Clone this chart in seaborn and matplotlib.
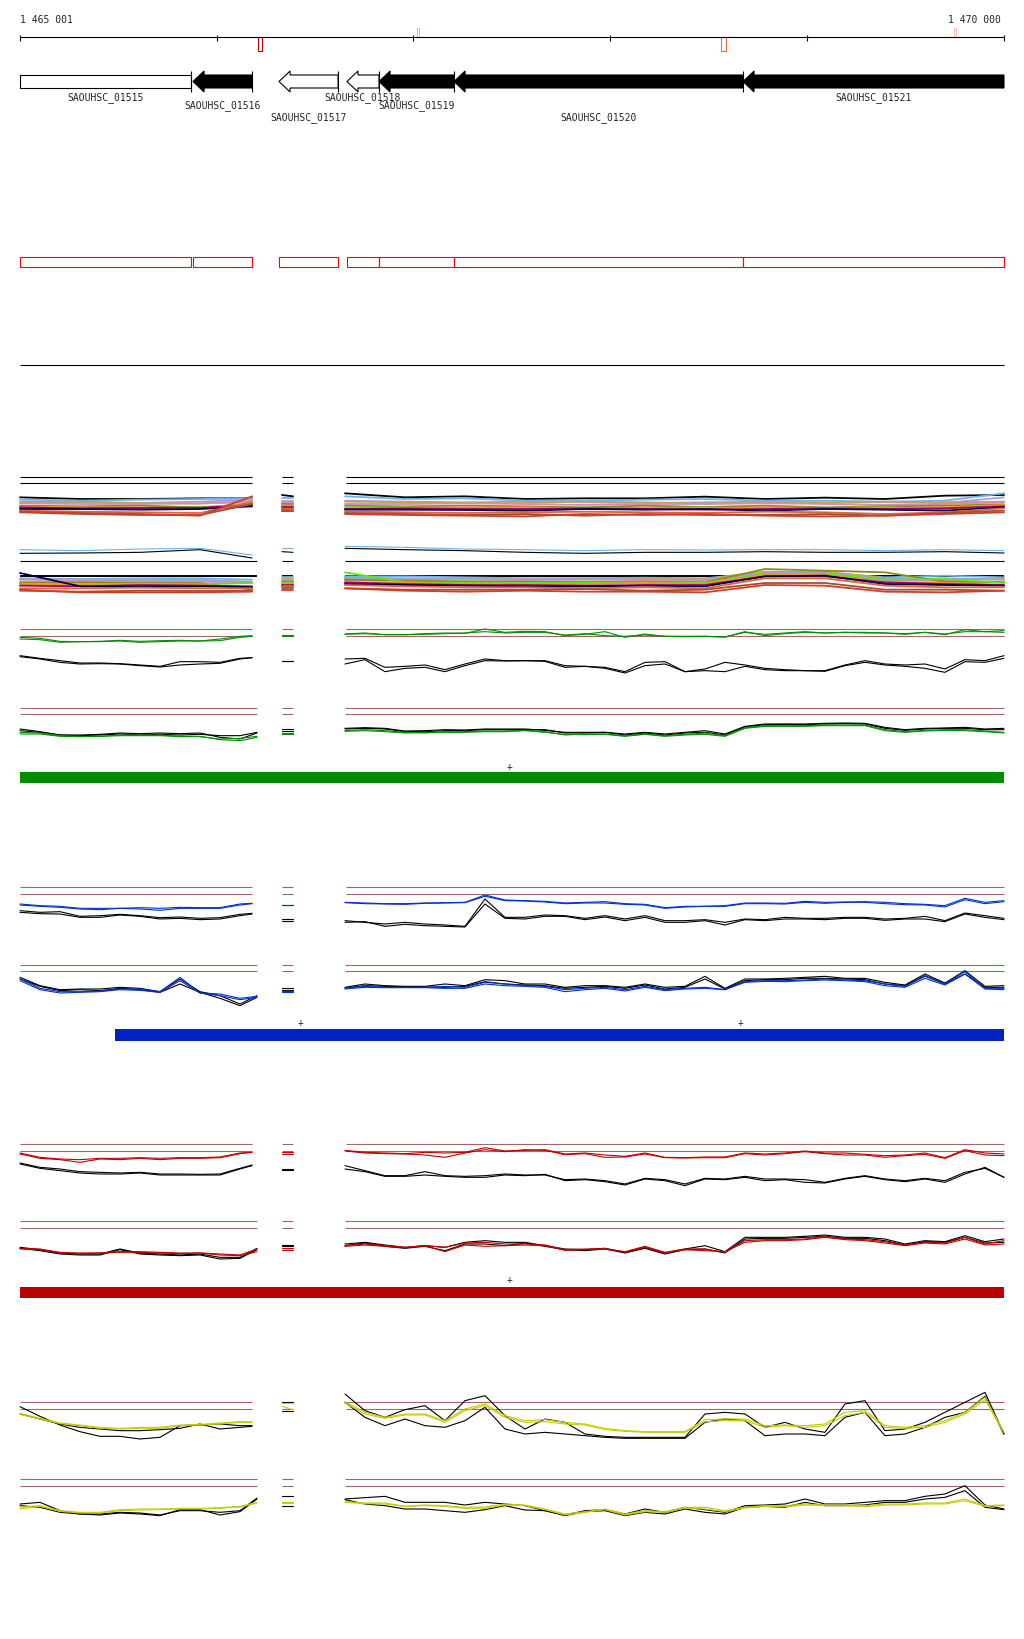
import numpy as np
import pandas as pd
import matplotlib
matplotlib.use("Agg")
import matplotlib.pyplot as plt
import seaborn as sns

# ---------------------------------------------------------------- data
VIEW_START, VIEW_END = 1465001, 1470000
RULER_TICKS = [1465001, 1466000, 1467000, 1468000, 1469000, 1470000]
RULER_LEFT_LABEL = "1 465 001"
RULER_RIGHT_LABEL = "1 470 000"

GENE_NAMES = ["SAOUHSC_01515", "SAOUHSC_01516", "SAOUHSC_01517", "SAOUHSC_01518",
              "SAOUHSC_01519", "SAOUHSC_01520", "SAOUHSC_01521"]
GENE_START = [1465001, 1465880, 1466317, 1466662, 1466825, 1467206, 1468674]
GENE_END = [1465870, 1466180, 1466617, 1466825, 1467206, 1468674, 1470000]
GENE_STRAND = [".", "-", "-", "-", "-", "-", "-"]
GENE_FILL = ["white", "black", "white", "white", "black", "black", "black"]

VAR_POS = [1466210, 1467018, 1468562, 1469746]
VAR_WIDTH = [20, 12, 25, 12]
VAR_SIDE = ["below", "above", "below", "above"]
VAR_COLOR = ["#C00000", "#F0B8B0", "#F0674A", "#F4C8B8"]

TX_START = [1465001, 1465484, 1465001]
TX_END = [1470000, 1470000, 1470000]
TX_COLOR = ["#008C00", "#0022C2", "#BB0000"]
PLUS_G = [1467490]
PLUS_B = [1466424, 1468664]
PLUS_R = [1467490]

# sampling positions (bp)
POS_L_TOP = [VIEW_START + 101.6 * i for i in range(12)] + [1466180]
POS_L_BOT = [VIEW_START + 101.6 * i for i in range(12)] + [1466205]
POS_M = [1466332, 1466388]
POS_R = [1466652 + 101.6 * i for i in range(33)] + [1470000]
CPOS_L = [1465001, 1465306, 1465611, 1465915, 1466180]
CPOS_R = [1466652 + 304.8 * i for i in range(11)] + [1470000]

SEG_TOP = [(1465001, 1466180), (1466332, 1466388), (1466657, 1470000)]
SEG_BOT = [(1465001, 1466205), (1466332, 1466388), (1466652, 1470000)]

# ---- green group
G_REF_TOP = [61, 82]
G_REF_BOT = [296, 316]
G_TOP_GREEN_1 = [85, 88, 97, 98, 97, 94, 97, 95, 94, 96, 90, 82, 80,
                 78, 78,
                 75, 72, 77, 77, 74, 72, 73, 60, 70,
                 67, 68, 80, 76, 68, 85, 75, 82, 82, 82, 84, 70, 76, 72, 68, 72, 70, 72, 72, 76, 70, 77, 62, 68, 65]
G_TOP_GREEN_2 = [90, 92, 100, 98, 98, 96, 100, 98, 96, 96, 95, 85, 82,
                 80, 80,
                 76, 74, 77, 77, 76, 74, 72, 68, 72,
                 70, 70, 78, 74, 80, 82, 78, 82, 83, 82, 84, 68, 80, 74, 70, 72, 70, 70, 72, 74, 70, 75, 68, 68, 70]
G_TOP_BLACK_1 = [140, 148, 155, 162, 162, 164, 168, 172, 158, 158, 160, 148, 146,
                 155, 155,
                 150, 148, 175, 172, 168, 182, 165, 150, 155,
                 155, 155, 170, 172, 175, 188, 160, 158, 188, 180, 160, 168, 178, 182, 185, 185, 168, 155, 165, 168, 165, 180, 152, 155, 140]
G_TOP_BLACK_2 = [143, 150, 160, 165, 164, 165, 170, 174, 168, 165, 163, 150, 146,
                 157, 157,
                 165, 152, 188, 178, 175, 188, 170, 155, 156,
                 155, 157, 175, 172, 178, 192, 170, 165, 188, 185, 188, 172, 182, 185, 185, 187, 170, 160, 168, 172, 178, 190, 158, 160, 148]
G_BOT_BLACK_1 = [360, 368, 378, 378, 376, 372, 374, 372, 374, 372, 385, 390, 372,
                 360, 360,
                 358, 356, 358, 366, 365, 362, 363, 360, 360,
                 360, 364, 370, 370, 370, 375, 370, 375, 370, 365, 375, 352, 345, 345, 345, 343, 342, 343, 355, 362, 358, 357, 355, 360, 358]
G_BOT_BLACK_2 = [365, 370, 378, 380, 378, 375, 378, 376, 378, 376, 380, 380, 370,
                 365, 365,
                 360, 358, 360, 368, 368, 365, 365, 362, 362,
                 362, 362, 372, 372, 370, 378, 372, 378, 372, 370, 378, 354, 347, 346, 347, 345, 344, 345, 358, 364, 360, 358, 358, 362, 362]
G_BOT_GREEN_1 = [370, 372, 380, 382, 382, 378, 378, 378, 382, 382, 392, 395, 385,
                 372, 372,
                 365, 362, 365, 370, 372, 368, 368, 366, 366,
                 364, 368, 378, 375, 375, 380, 375, 380, 376, 372, 380, 356, 350, 350, 350, 348, 348, 348, 362, 368, 364, 362, 362, 366, 370]
G_BOT_GREEN_2 = [375, 375, 382, 383, 382, 380, 380, 380, 383, 383, 390, 388, 382,
                 374, 374,
                 367, 365, 368, 372, 370, 370, 370, 368, 368,
                 365, 370, 376, 377, 376, 382, 376, 382, 378, 376, 382, 358, 352, 352, 352, 350, 350, 350, 365, 370, 366, 364, 365, 368, 372]

# ---- blue group
B_REF_TOP = [55, 76]
B_REF_BOT = [287, 307]
B_TOP_BLUE_1 = [105, 110, 112, 118, 118, 118, 116, 118, 115, 116, 116, 105, 103,
                107, 107,
                100, 102, 104, 104, 102, 101, 100, 78, 93,
                95, 97, 102, 100, 98, 104, 106, 116, 112, 112, 110, 102, 102, 103, 97, 100, 99, 98, 100, 104, 106, 110, 88, 100, 95]
B_TOP_BLUE_2 = [108, 112, 115, 120, 122, 118, 120, 124, 118, 118, 118, 108, 104,
                108, 108,
                101, 104, 105, 106, 103, 102, 101, 82, 95,
                96, 99, 104, 102, 102, 106, 108, 118, 114, 112, 112, 104, 104, 105, 100, 103, 100, 100, 104, 107, 108, 114, 92, 104, 98]
B_TOP_BLACK_1 = [125, 130, 128, 142, 140, 136, 140, 146, 144, 148, 146, 136, 133,
                 150, 150,
                 155, 160, 165, 160, 165, 168, 172, 90, 145,
                 145, 138, 140, 148, 140, 150, 140, 155, 155, 152, 160, 150, 152, 145, 148, 148, 145, 145, 150, 148, 142, 155, 132, 140, 148]
B_TOP_BLACK_2 = [130, 134, 135, 145, 145, 138, 142, 150, 148, 152, 150, 140, 135,
                 155, 155,
                 160, 158, 172, 166, 170, 172, 174, 105, 148,
                 150, 142, 142, 152, 144, 155, 145, 160, 160, 155, 168, 152, 155, 150, 150, 152, 148, 148, 154, 150, 150, 158, 135, 145, 152]
B_BOT_BLACK_1 = [325, 350, 362, 360, 360, 355, 358, 368, 330, 368, 380, 405, 380,
                 358, 358,
                 355, 345, 350, 352, 352, 345, 350, 332, 335,
                 345, 345, 355, 350, 350, 355, 345, 355, 352, 322, 358, 330, 330, 328, 325, 322, 328, 328, 340, 348, 315, 342, 305, 352, 350]
B_BOT_BLACK_2 = [330, 352, 365, 362, 365, 358, 362, 370, 345, 370, 388, 410, 385,
                 362, 362,
                 357, 350, 352, 354, 354, 355, 352, 338, 345,
                 348, 350, 358, 355, 352, 358, 348, 360, 355, 330, 360, 335, 332, 332, 328, 328, 330, 332, 345, 350, 320, 345, 315, 355, 355]
B_BOT_BLUE_1 = [330, 358, 368, 368, 366, 360, 360, 368, 325, 372, 375, 388, 382,
                365, 365,
                357, 352, 355, 355, 355, 352, 355, 340, 345,
                350, 352, 362, 358, 355, 362, 352, 362, 358, 355, 362, 338, 335, 335, 333, 330, 333, 335, 345, 352, 322, 345, 308, 358, 358]
B_BOT_BLUE_2 = [335, 362, 372, 370, 368, 362, 364, 370, 335, 372, 380, 392, 385,
                368, 368,
                360, 355, 356, 356, 356, 358, 358, 345, 350,
                352, 355, 368, 362, 358, 366, 355, 365, 360, 358, 362, 340, 337, 338, 335, 333, 335, 338, 350, 355, 328, 348, 315, 360, 362]

# ---- red group
R_REF_TOP = [46, 67]
R_REF_BOT = [277, 298]
R_TOP_RED_1 = [72, 85, 90, 92, 88, 88, 86, 88, 86, 86, 84, 72, 70,
               70, 70,
               64, 70, 72, 74, 70, 72, 70, 56, 66,
               64, 62, 75, 72, 78, 82, 72, 85, 86, 84, 84, 72, 75, 72, 66, 72, 72, 76, 80, 78, 72, 86, 62, 72, 75]
R_TOP_RED_2 = [75, 88, 92, 100, 90, 92, 88, 92, 88, 88, 86, 74, 70,
               74, 74,
               66, 72, 74, 75, 78, 85, 72, 62, 68,
               62, 64, 77, 74, 85, 84, 75, 86, 87, 86, 86, 74, 78, 74, 68, 74, 78, 78, 85, 80, 76, 88, 65, 78, 80]
R_TOP_BLACK_1 = [102, 115, 120, 128, 130, 132, 130, 135, 135, 136, 135, 118, 108,
                 120, 120,
                 110, 125, 140, 140, 128, 140, 142, 140, 135,
                 138, 138, 152, 150, 155, 165, 148, 152, 165, 148, 150, 142, 150, 150, 152, 160, 148, 140, 150, 155, 148, 155, 130, 118, 145]
R_TOP_BLACK_2 = [105, 118, 125, 132, 135, 135, 132, 138, 138, 138, 138, 120, 110,
                 122, 122,
                 120, 128, 142, 142, 138, 142, 145, 145, 138,
                 140, 136, 155, 152, 158, 168, 150, 155, 170, 150, 152, 145, 155, 152, 160, 162, 150, 142, 152, 158, 150, 160, 135, 115, 145]
R_BOT_BLACK_1 = [355, 362, 372, 375, 375, 360, 372, 375, 378, 375, 385, 385, 358,
                 348, 348,
                 345, 340, 348, 355, 350, 355, 340, 335, 340,
                 340, 350, 360, 362, 358, 370, 355, 372, 360, 350, 368, 325, 325, 325, 322, 318, 325, 325, 330, 345, 335, 338, 320, 338, 330]
R_BOT_BLACK_2 = [358, 365, 375, 378, 378, 362, 375, 378, 380, 378, 390, 388, 362,
                 352, 352,
                 350, 342, 352, 358, 352, 365, 345, 345, 350,
                 342, 352, 362, 365, 360, 372, 358, 375, 362, 360, 372, 330, 328, 328, 325, 322, 328, 328, 335, 348, 338, 340, 325, 342, 340]
R_BOT_RED_1 = [358, 360, 370, 372, 372, 368, 368, 370, 372, 372, 375, 378, 360,
               358, 358,
               350, 345, 350, 355, 350, 355, 342, 340, 345,
               345, 348, 362, 360, 360, 368, 352, 370, 360, 360, 370, 335, 332, 332, 330, 322, 330, 332, 338, 348, 340, 342, 325, 345, 335]
R_BOT_RED_2 = [360, 362, 372, 374, 372, 370, 370, 372, 374, 372, 378, 380, 368,
               362, 362,
               352, 348, 352, 356, 350, 368, 348, 352, 350,
               348, 350, 364, 362, 358, 370, 355, 372, 362, 365, 368, 340, 335, 335, 332, 325, 332, 335, 342, 350, 342, 345, 330, 348, 345]

# ---- yellow group
Y_REF_TOP = [70, 91]
Y_REF_BOT = [300, 322]
Y_TOP_YEL_1 = [103, 118, 132, 138, 145, 148, 145, 145, 138, 136, 132, 128, 128,
               72, 72,
               68, 100, 115, 105, 105, 125, 90, 75, 110,
               125, 122, 130, 135, 148, 155, 158, 158, 158, 122, 120, 120, 140, 138, 140, 135, 100, 95, 140, 145, 140, 125, 100, 55, 160]
Y_TOP_YEL_2 = [106, 120, 134, 140, 148, 150, 148, 148, 140, 138, 135, 130, 130,
               82, 92,
               72, 105, 118, 108, 108, 130, 95, 80, 115,
               130, 128, 135, 138, 152, 157, 160, 160, 160, 128, 125, 125, 145, 140, 145, 140, 110, 100, 145, 148, 145, 130, 105, 62, 160]
Y_TOP_BLACK_1 = [83, 112, 138, 158, 172, 172, 180, 175, 140, 138, 135, 140, 140,
                 68, 68,
                 45, 95, 115, 92, 80, 125, 65, 50, 110,
                 150, 120, 130, 165, 172, 175, 175, 175, 175, 105, 100, 105, 145, 130, 150, 160, 75, 65, 155, 150, 130, 100, 70, 40, 165]
Y_TOP_BLACK_2 = [105, 120, 135, 145, 150, 155, 155, 152, 148, 135, 150, 145, 142,
                 95, 95,
                 70, 115, 140, 120, 140, 145, 125, 85, 150,
                 165, 160, 165, 170, 175, 178, 178, 178, 178, 130, 120, 125, 170, 165, 165, 170, 115, 100, 170, 165, 145, 115, 100, 52, 165]
Y_BOT_YEL_1 = [385, 380, 395, 400, 400, 392, 390, 390, 388, 388, 386, 382, 370,
               368, 368,
               368, 372, 372, 382, 378, 380, 385, 384, 375,
               378, 390, 405, 398, 390, 405, 395, 398, 385, 385, 395, 385, 380, 380, 375, 378, 378, 380, 375, 375, 372, 372, 360, 380, 378]
Y_BOT_YEL_2 = [390, 382, 397, 402, 402, 395, 393, 392, 390, 390, 388, 384, 372,
               372, 372,
               370, 374, 375, 382, 380, 382, 388, 388, 378,
               380, 392, 408, 400, 392, 408, 398, 400, 387, 390, 398, 387, 382, 383, 378, 380, 380, 383, 378, 378, 375, 375, 365, 382, 380]
Y_BOT_BLACK_1 = [375, 370, 395, 405, 405, 400, 402, 408, 395, 395, 400, 395, 357,
                 350, 350,
                 360, 356, 352, 370, 370, 370, 378, 370, 375,
                 380, 395, 408, 395, 392, 405, 390, 400, 385, 392, 400, 380, 378, 375, 360, 375, 375, 370, 365, 365, 352, 345, 320, 378, 390]
Y_BOT_BLACK_2 = [380, 385, 400, 405, 408, 402, 405, 410, 392, 392, 408, 398, 360,
                 380, 380,
                 362, 375, 380, 390, 390, 395, 400, 392, 380,
                 393, 395, 410, 398, 395, 410, 400, 405, 390, 400, 405, 385, 382, 385, 370, 380, 380, 378, 370, 370, 360, 355, 335, 385, 392]

# ---- multi-sample group (coarse samples: 5 left, 2 middle, 12 right)
M_REF_TOP = [55, 73]
M_REF_BOT = [307, 352]
M1_BLACK = [115, 120, 120, 118, 118, 108, 112, 103, 115, 112, 120, 118, 118, 113, 120, 116, 120, 110, 108]
M1_SKY = [122, 125, 122, 120, 118, 118, 118, 112, 120, 118, 125, 125, 122, 120, 125, 125, 128, 125, 103]
M1_LAV = [128, 130, 132, 128, 122, 125, 125, 125, 128, 130, 128, 130, 132, 130, 128, 130, 130, 132, 115]
M1_TAN = [130, 128, 132, 134, 126, 128, 128, 128, 130, 132, 132, 128, 130, 134, 130, 132, 128, 130, 128]
M1_ORCHID = [133, 135, 135, 133, 130, 132, 132, 135, 135, 133, 135, 138, 135, 135, 133, 135, 138, 135, 130]
M1_OLIVE = [140, 142, 140, 145, 136, 135, 135, 140, 142, 140, 142, 145, 140, 144, 140, 145, 142, 140, 136]
M1_LIME = [145, 148, 148, 145, 135, 140, 140, 145, 145, 148, 148, 150, 148, 145, 150, 148, 145, 150, 140]
M1_ORANGE = [143, 145, 146, 148, 132, 142, 142, 148, 146, 145, 145, 148, 146, 148, 145, 147, 148, 145, 138]
M1_MAG = [145, 148, 147, 146, 140, 145, 145, 150, 148, 150, 150, 148, 150, 152, 150, 148, 150, 148, 142]
M1_NAVY = [150, 150, 152, 150, 142, 150, 150, 152, 152, 153, 155, 150, 152, 150, 155, 150, 152, 155, 145]
M1_CORAL = [155, 158, 160, 162, 130, 150, 150, 158, 160, 162, 160, 158, 160, 162, 158, 160, 165, 160, 148]
M1_BROWN = [160, 165, 168, 168, 135, 155, 155, 162, 165, 168, 165, 170, 165, 168, 168, 165, 170, 162, 155]
M1_RED = [158, 162, 165, 170, 112, 155, 155, 165, 168, 170, 172, 165, 168, 165, 170, 172, 170, 165, 160]

M2_TOP_SKY = [272, 275, 270, 268, 288, 268, 268, 262, 265, 270, 272, 275, 272, 273, 272, 272, 275, 272, 275]
M2_TOP_BLACK = [283, 282, 280, 272, 297, 278, 280, 268, 272, 275, 280, 283, 280, 280, 278, 280, 280, 278, 282]
M2_SKY = [358, 360, 358, 358, 362, 355, 355, 352, 352, 355, 358, 358, 356, 358, 340, 340, 355, 350, 355]
M2_TAN = [362, 362, 365, 362, 370, 360, 360, 358, 360, 362, 362, 362, 360, 360, 338, 338, 358, 360, 360]
M2_LAV = [360, 362, 362, 364, 368, 362, 362, 356, 358, 360, 360, 358, 362, 362, 342, 342, 360, 358, 362]
M2_ORCHID = [368, 366, 368, 368, 372, 365, 365, 365, 365, 368, 366, 368, 365, 365, 345, 345, 365, 365, 368]
M2_OLIVE = [372, 370, 372, 372, 392, 368, 368, 362, 365, 368, 368, 370, 368, 370, 330, 335, 340, 368, 370]
M2_LIME = [375, 375, 374, 376, 372, 372, 372, 340, 370, 372, 372, 372, 370, 372, 345, 345, 362, 360, 372]
M2_ORANGE = [378, 378, 380, 378, 385, 375, 375, 372, 372, 375, 375, 375, 372, 375, 348, 348, 370, 372, 378]
M2_MAG = [380, 382, 378, 380, 382, 378, 378, 370, 375, 378, 378, 380, 378, 378, 352, 352, 370, 375, 378]
M2_NAVY = [342, 382, 383, 382, 384, 380, 380, 375, 378, 380, 382, 382, 380, 382, 352, 350, 375, 378, 380]
M2_CORAL = [388, 388, 386, 388, 388, 382, 382, 378, 382, 385, 385, 388, 385, 388, 358, 358, 380, 385, 385]
M2_BROWN = [395, 398, 395, 396, 395, 388, 388, 388, 392, 392, 392, 390, 395, 392, 372, 372, 392, 392, 395]
M2_RED = [392, 400, 400, 400, 398, 392, 392, 388, 395, 398, 395, 398, 398, 400, 378, 380, 398, 400, 395]

# ---------------------------------------------------------------- style
BROWN_REF = "#9E6868"
C_GREEN, C_BLUE, C_RED, C_YEL = "#009000", "#0030D0", "#C00000", "#C4CC00"
PAL = {"black": "#000000", "sky": "#6CB4EE", "lav": "#A0A0DC", "tan": "#C8A050",
       "orchid": "#D08CC8", "olive": "#8C8C14", "lime": "#55EE00", "orange": "#FF8C1E",
       "mag": "#A0006E", "navy": "#000050", "coral": "#E0643C", "brown": "#A05032",
       "red": "#D23C28"}

W, H = 1024, 1640
BPP = (VIEW_END - VIEW_START) / 984.0
XMIN = VIEW_START - 20 * BPP
XMAX = VIEW_START + 1004 * BPP
LW = 0.8
LW_BUNDLE = 1.3

sns.set_theme(style="white")
plt.rcParams["font.family"] = ["DejaVu Sans Mono", "DejaVu Sans"]
fig = plt.figure(figsize=(W / 100, H / 100), dpi=100)
fig.patch.set_facecolor("white")


def band(y0, h, scale=3):
    ax = fig.add_axes([0, 1 - (y0 + h) / H, 1, h / H])
    ax.set_axis_off()
    ax._lim = (h * scale, 0)
    return ax


def finish(ax):
    ax.set_xlim(XMIN, XMAX)
    ax.set_ylim(*ax._lim)
    ax.set_axis_off()


def plot_series(ax, series, pos_l, pos_m, pos_r, lw=LW):
    frames = []
    for name, (color, vals) in series.items():
        pos = list(pos_l) + list(pos_m) + list(pos_r)
        seg = ["L"] * len(pos_l) + ["M"] * len(pos_m) + ["R"] * len(pos_r)
        frames.append(pd.DataFrame({"pos": pos, "value": vals, "segment": seg, "series": name}))
    df = pd.concat(frames, ignore_index=True)
    palette = {n: c for n, (c, v) in series.items()}
    sns.lineplot(data=df, x="pos", y="value", hue="series", hue_order=list(series),
                 units="segment", estimator=None, palette=palette, legend=False,
                 sort=False, lw=lw, ax=ax)


def ref_lines(ax, ys, segs, color=BROWN_REF, lw=LW):
    for y in ys:
        for s, e in segs:
            ax.hlines(y, s, e, color=color, lw=lw)


# ---------------------------------------------------------------- top: ruler, genes
ax = band(0, 380, scale=1)
ax.hlines(38, VIEW_START, VIEW_END, color="black", lw=LW)
ax.vlines(RULER_TICKS, 35.5, 41.5, color="black", lw=LW)
ax.text(VIEW_START, 20, RULER_LEFT_LABEL, ha="left", va="center", fontsize=7)
ax.text(VIEW_END - 15, 20, RULER_RIGHT_LABEL, ha="right", va="center", fontsize=7)
for p, w, side, c in zip(VAR_POS, VAR_WIDTH, VAR_SIDE, VAR_COLOR):
    if side == "below":
        ax.bar(p, 14, width=w, bottom=38, align="edge", facecolor="white", edgecolor=c, lw=LW)
    else:
        ax.bar(p, 9.5, width=w, bottom=28.5, align="edge", facecolor="white", edgecolor=c, lw=LW)

LABEL_ROWS = [97.3, 106, 117.7]
HEAD = 56
for i, (name, s, e, strand, fill) in enumerate(zip(GENE_NAMES, GENE_START, GENE_END, GENE_STRAND, GENE_FILL)):
    if strand == "-":
        hl = min(HEAD, e - s)
        xs = [e, s + hl, s + hl, s, s + hl, s + hl, e]
        ys = [76, 76, 72, 82.5, 93, 89, 89]
    else:
        xs = [s, e, e, s]
        ys = [76, 76, 89, 89]
    ax.fill(xs, ys, facecolor=fill, edgecolor="black", lw=LW)
    if e < VIEW_END:
        ax.vlines(e, 72, 93, color="black", lw=LW)
    ax.text((s + e) / 2, LABEL_ROWS[i % 3], name, ha="center", va="center", fontsize=7)
    ax.bar(s, 10, width=e - s, bottom=258, align="edge", fill=False, edgecolor="#FF0000", lw=LW)
ax.hlines(366, VIEW_START, VIEW_END, color="black", lw=LW)
finish(ax)

# ---------------------------------------------------------------- multi-sample bundles
ax = band(460, 150)
ref_lines(ax, M_REF_TOP, SEG_TOP, color="black")
ref_lines(ax, M_REF_BOT[:1], SEG_BOT, color="black")
ref_lines(ax, M_REF_BOT[1:], SEG_BOT, color="black", lw=1.4)
CPOS_M = POS_M
bundle1 = {"black": M1_BLACK, "sky": M1_SKY, "lav": M1_LAV, "tan": M1_TAN, "orchid": M1_ORCHID,
           "olive": M1_OLIVE, "lime": M1_LIME, "orange": M1_ORANGE, "mag": M1_MAG,
           "navy": M1_NAVY, "coral": M1_CORAL, "brown": M1_BROWN, "red": M1_RED}
plot_series(ax, {"m1_" + k: (PAL[k], v) for k, v in bundle1.items()}, CPOS_L, CPOS_M, CPOS_R, lw=LW_BUNDLE)
plot_series(ax, {"m2_top_sky": (PAL["sky"], M2_TOP_SKY), "m2_top_black": (PAL["black"], M2_TOP_BLACK)},
            CPOS_L, CPOS_M, CPOS_R)
bundle2 = {"sky": M2_SKY, "tan": M2_TAN, "lav": M2_LAV, "orchid": M2_ORCHID, "olive": M2_OLIVE,
           "lime": M2_LIME, "orange": M2_ORANGE, "mag": M2_MAG, "navy": M2_NAVY,
           "coral": M2_CORAL, "brown": M2_BROWN, "red": M2_RED}
plot_series(ax, {"m2_" + k: (PAL[k], v) for k, v in bundle2.items()}, CPOS_L, CPOS_M, CPOS_R, lw=LW_BUNDLE)
finish(ax)


# ---------------------------------------------------------------- coloured groups
def group(y0, h, ref_top, ref_bot, top, bot, tx_idx, tx_y, tx_h, plus_pos, plus_y):
    ax = band(y0, h)
    ref_lines(ax, ref_top, SEG_TOP)
    ref_lines(ax, ref_bot, SEG_BOT)
    plot_series(ax, top, POS_L_TOP, POS_M, POS_R)
    plot_series(ax, bot, POS_L_BOT, POS_M, POS_R)
    ax.barh(tx_y, TX_END[tx_idx] - TX_START[tx_idx], left=TX_START[tx_idx], height=tx_h,
            color=TX_COLOR[tx_idx], lw=0)
    for p in plus_pos:
        ax.text(p, plus_y, "+", ha="center", va="center", fontsize=7)
    finish(ax)


group(610, 180, G_REF_TOP, G_REF_BOT,
      {"gtb1": ("black", G_TOP_BLACK_1), "gtb2": ("black", G_TOP_BLACK_2),
       "gtg1": (C_GREEN, G_TOP_GREEN_1), "gtg2": (C_GREEN, G_TOP_GREEN_2)},
      {"gbb1": ("black", G_BOT_BLACK_1), "gbb2": ("black", G_BOT_BLACK_2),
       "gbg1": (C_GREEN, G_BOT_GREEN_1), "gbg2": (C_GREEN, G_BOT_GREEN_2)},
      0, 505, 32, PLUS_G, 470)

group(870, 180, B_REF_TOP, B_REF_BOT,
      {"btb1": ("black", B_TOP_BLACK_1), "btb2": ("black", B_TOP_BLACK_2),
       "btu1": (C_BLUE, B_TOP_BLUE_1), "btu2": (C_BLUE, B_TOP_BLUE_2)},
      {"bbb1": ("black", B_BOT_BLACK_1), "bbb2": ("black", B_BOT_BLACK_2),
       "bbu1": (C_BLUE, B_BOT_BLUE_1), "bbu2": (C_BLUE, B_BOT_BLUE_2)},
      1, 498, 36, PLUS_B, 460)

group(1130, 170, R_REF_TOP, R_REF_BOT,
      {"rtb1": ("black", R_TOP_BLACK_1), "rtb2": ("black", R_TOP_BLACK_2),
       "rtr1": (C_RED, R_TOP_RED_1), "rtr2": (C_RED, R_TOP_RED_2)},
      {"rbb1": ("black", R_BOT_BLACK_1), "rbb2": ("black", R_BOT_BLACK_2),
       "rbr1": (C_RED, R_BOT_RED_1), "rbr2": (C_RED, R_BOT_RED_2)},
      2, 490.5, 33, PLUS_R, 450)

ax = band(1380, 150)
ref_lines(ax, Y_REF_TOP, SEG_TOP)
ref_lines(ax, Y_REF_BOT, SEG_BOT)
plot_series(ax, {"ytb1": ("black", Y_TOP_BLACK_1), "ytb2": ("black", Y_TOP_BLACK_2),
                 "yty1": (C_YEL, Y_TOP_YEL_1), "yty2": (C_YEL, Y_TOP_YEL_2)},
            POS_L_TOP, POS_M, POS_R)
plot_series(ax, {"ybb1": ("black", Y_BOT_BLACK_1), "ybb2": ("black", Y_BOT_BLACK_2),
                 "yby1": (C_YEL, Y_BOT_YEL_1), "yby2": (C_YEL, Y_BOT_YEL_2)},
            POS_L_BOT, POS_M, POS_R)
finish(ax)

fig.savefig("out.png", dpi=100, facecolor="white")
